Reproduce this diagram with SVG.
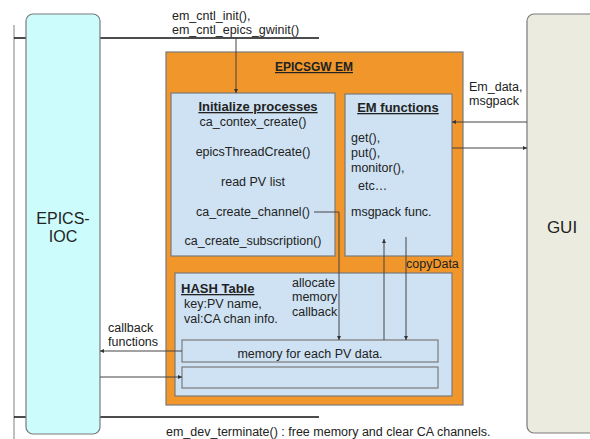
<svg xmlns="http://www.w3.org/2000/svg" width="590" height="439" viewBox="0 0 590 439">
<style>
text{font-family:"Liberation Sans",Arial,sans-serif;fill:#222;font-size:12.5px}
.b{font-weight:bold;text-decoration:underline;font-size:13px}
.big{font-size:16px}
.c{text-anchor:middle}
.box{stroke:#7a7a7a;stroke-width:1.2}
.ln{fill:none;stroke:#444;stroke-width:1}
</style>
<defs>
<marker id="ah" viewBox="0 0 6 6" refX="6" refY="3" markerWidth="4" markerHeight="4" orient="auto" markerUnits="userSpaceOnUse">
<path d="M0,0 L6,3 L0,6 z" fill="#333"/>
</marker>
</defs>
<rect width="590" height="439" fill="#fff"/>
<g id="timeline">
<line x1="14" y1="25" x2="14" y2="439" stroke="#aaa" stroke-width="1.5"/>
<line x1="14" y1="38" x2="319" y2="38" stroke="#111" stroke-width="1.5"/>
<line x1="14" y1="417" x2="319" y2="417" stroke="#111" stroke-width="1.5"/>
<text x="172" y="20">em_cntl_init(),</text>
<text x="172" y="34">em_cntl_epics_gwinit()</text>
<text x="166" y="436">em_dev_terminate() : free memory and clear CA channels.</text>
</g>
<g id="epics-ioc">
<rect x="26" y="14" width="74" height="420" rx="7" fill="#cdfcfc" class="box"/>
<text x="63" y="224" class="c big">EPICS-</text>
<text x="63" y="242" class="c big">IOC</text>
</g>
<g id="gui">
<rect x="527" y="14" width="80" height="419" rx="7" fill="#ecebe0" class="box"/>
<text x="562" y="233" class="c" style="font-size:17px">GUI</text>
</g>
<g id="epicsgw-em">
<rect x="166" y="52" width="297" height="353" fill="#f0962a" class="box"/>
<text x="314" y="71" class="c b" style="font-size:12px">EPICSGW EM</text>
<text x="406" y="268">copyData</text>
</g>
<g id="initialize">
<rect x="171" y="93" width="164" height="163" fill="#cfe2f3" class="box"/>
<text x="258" y="111" class="c b">Initialize processes</text>
<text x="253" y="126" class="c">ca_contex_create()</text>
<text x="253" y="156" class="c">epicsThreadCreate()</text>
<text x="253" y="186" class="c">read PV list</text>
<text x="253" y="216" class="c">ca_create_channel()</text>
<text x="253" y="245" class="c">ca_create_subscription()</text>
</g>
<g id="em-functions">
<rect x="345" y="94" width="107" height="162" fill="#cfe2f3" class="box"/>
<text x="398" y="112" class="c b">EM functions</text>
<text x="351" y="142">get(),</text>
<text x="351" y="157">put(),</text>
<text x="351" y="172">monitor(),</text>
<text x="358" y="190">etc…</text>
<text x="351" y="216">msgpack func.</text>
</g>
<g id="hash-table">
<rect x="175" y="273" width="277" height="123" fill="#cfe2f3" class="box"/>
<text x="181" y="293" class="b">HASH Table</text>
<text x="184" y="308">key:PV name,</text>
<text x="184" y="323">val:CA chan info.</text>
<text x="292" y="287">allocate</text>
<text x="292" y="301">memory</text>
<text x="292" y="316">callback</text>
</g>
<g id="memory-1">
<rect x="182" y="340" width="256" height="22" fill="#cfe2f3" class="box"/>
<text x="310" y="358" class="c">memory for each PV data.</text>
</g>
<g id="memory-2">
<rect x="182" y="367" width="256" height="21" fill="#cfe2f3" class="box"/>
</g>
<g id="labels">
<text x="469" y="91">Em_data,</text>
<text x="469" y="105">msgpack</text>
<text x="108" y="332">callback</text>
<text x="108" y="346">functions</text>
</g>
<g id="connectors">
<line x1="236" y1="38" x2="236" y2="93" class="ln" marker-end="url(#ah)"/>
<line x1="527" y1="122" x2="452" y2="122" class="ln" marker-end="url(#ah)"/>
<line x1="452" y1="148" x2="527" y2="148" class="ln" marker-end="url(#ah)"/>
<path d="M314,212 H339 V340" class="ln" marker-end="url(#ah)"/>
<line x1="384" y1="340" x2="384" y2="239" class="ln" marker-end="url(#ah)"/>
<line x1="406" y1="237" x2="406" y2="340" class="ln" marker-end="url(#ah)"/>
<line x1="182" y1="351" x2="100" y2="351" class="ln" marker-end="url(#ah)"/>
<line x1="100" y1="377" x2="182" y2="377" class="ln" marker-end="url(#ah)"/>
</g>
</svg>
